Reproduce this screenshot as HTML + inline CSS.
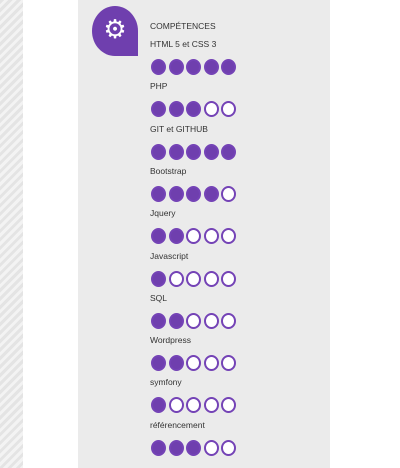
<!DOCTYPE html>
<html><head><meta charset="utf-8"><style>
body{margin:0;width:400px;height:468px;background:#fff;position:relative;overflow:hidden;font-family:"Liberation Sans",sans-serif}
.hatch{position:absolute;left:0;top:0;width:23px;height:468px;background:repeating-linear-gradient(135deg,#e4e4e4 0 3px,#f3f3f3 3px 6px)}
.panel{position:absolute;left:78px;top:0;width:252px;height:468px;background:#ebebeb}
.bubble{position:absolute;left:92px;top:6px;width:46px;height:50px;background:#6f3fae;border-radius:50% 50% 0 50%}
.gear{position:absolute;left:0;top:0;width:46px;height:46px;color:#fff;font-size:26px;line-height:46px;text-align:center}
.lbl{position:absolute;left:150px;font-size:8.5px;color:#333;white-space:nowrap}
.dot{position:absolute;width:15px;height:16px;border-radius:50%;box-sizing:border-box;border:2px solid #7443b6}
.on{background:#6f3fae}.off{background:#fff}
</style></head><body>
<div class="hatch"></div>
<div class="panel"></div>
<div class="bubble"><div class="gear">⚙</div></div>
<div class="lbl" style="top:21px">COMPÉTENCES</div>
<div id="rows"></div>
<script>
const skills=["HTML 5 et CSS 3","PHP","GIT et GITHUB","Bootstrap","Jquery","Javascript","SQL","Wordpress","symfony","référencement"];
const levels=[5,3,5,4,2,1,2,2,1,3];
const maxLevel=5;
const root=document.getElementById('rows');
skills.forEach((s,i)=>{
  const y=67+i*42.3;
  const l=document.createElement('div');
  l.className='lbl';l.style.top=(y-28)+'px';l.textContent=s;
  
  
  root.appendChild(l);
  for(let k=0;k<maxLevel;k++){
    const d=document.createElement('div');
    d.className='dot '+(k<levels[i]?'on':'off');
    d.style.left=(151+k*17.5)+'px';d.style.top=(y-8)+'px';
    
    
    root.appendChild(d);
  }
});
</script>
</body></html>
